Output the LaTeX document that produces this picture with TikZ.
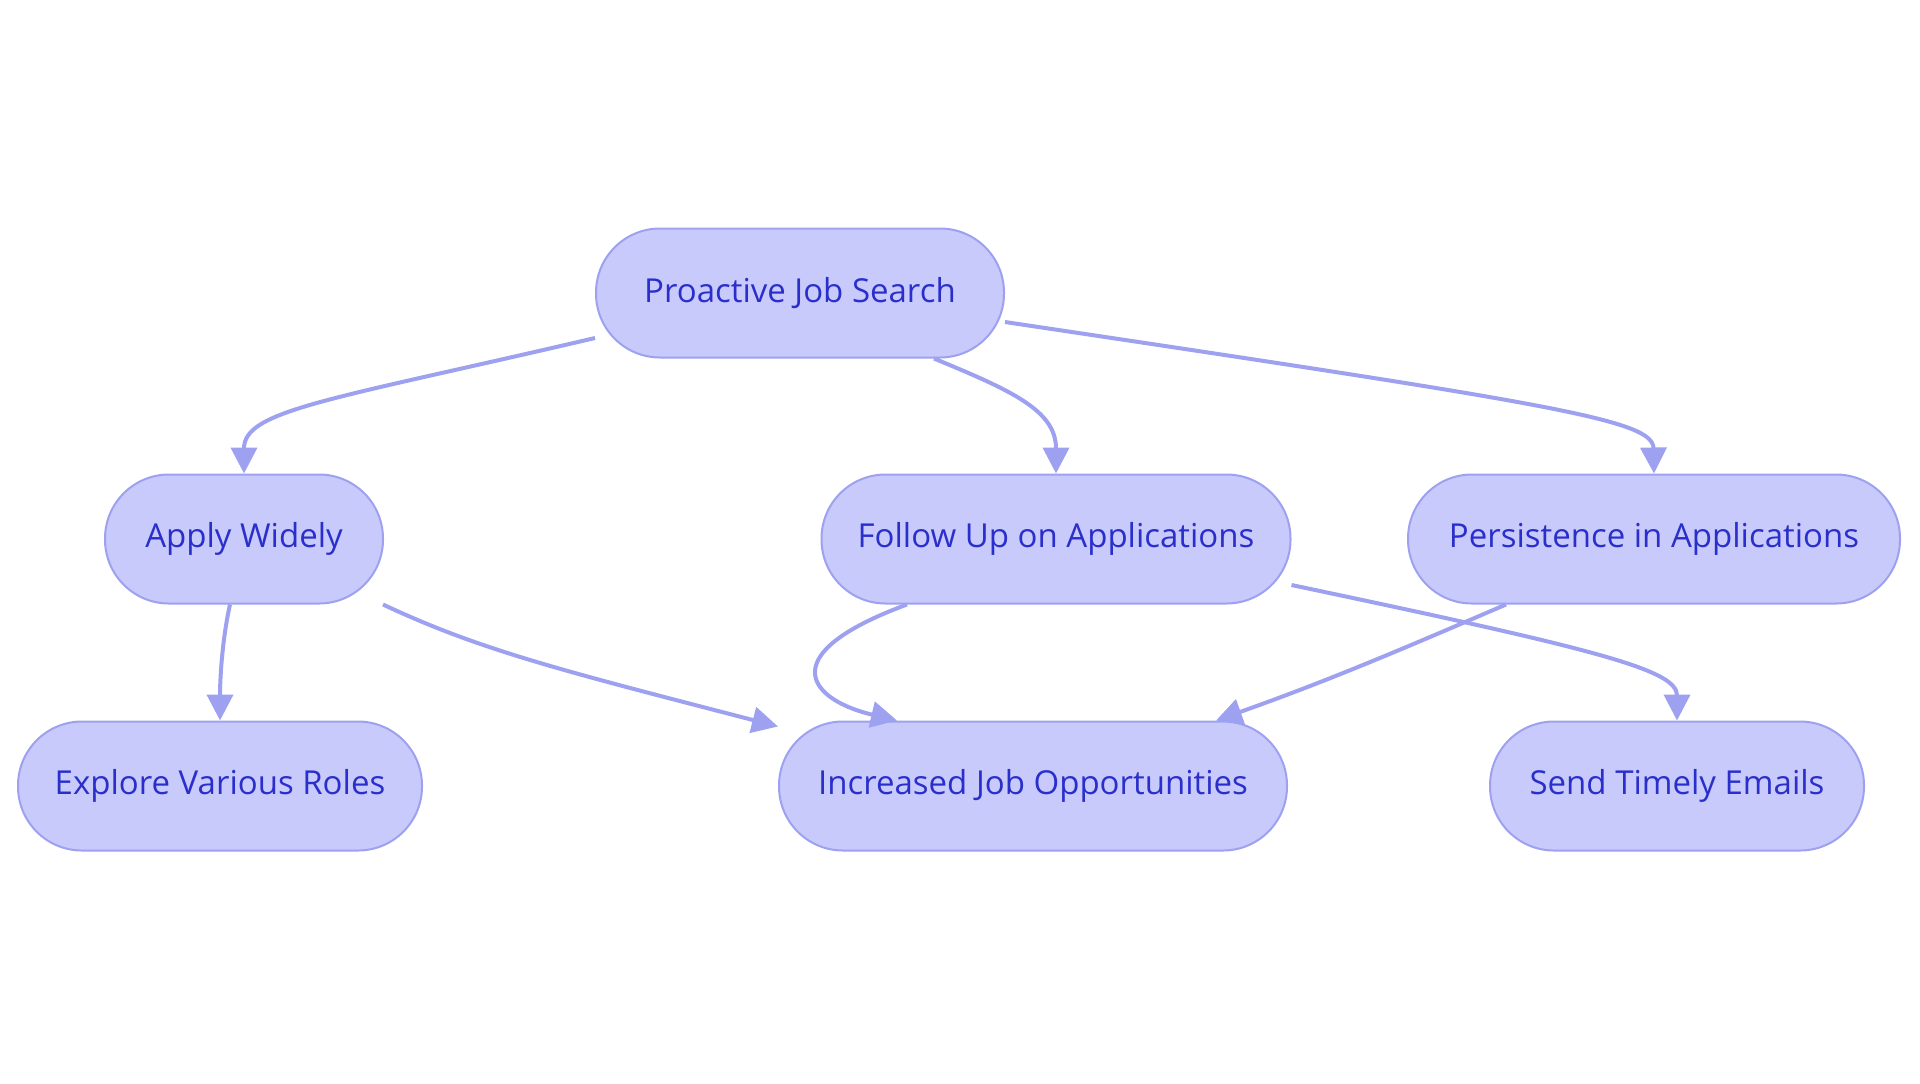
\documentclass[tikz,border=0pt]{standalone}
\usepackage{fontspec}
\setmainfont{Open Sans}
\usetikzlibrary{arrows.meta}
\definecolor{boxfill}{HTML}{C8CAFB}
\definecolor{boxline}{HTML}{9DA1F0}
\definecolor{boxtext}{HTML}{2A2FCB}
\tikzset{
  stepnode/.style={draw=boxline,line width=1pt,fill=boxfill,text=boxtext,
    rounded corners=32pt,minimum height=64.5pt,inner sep=0pt,
    font=\fontsize{16.5}{19}\selectfont},
  link/.style={draw=boxline,line width=2pt,-{Triangle[width=13pt,length=13pt]}}
}
\begin{document}
\begin{tikzpicture}[x=0.5pt,y=-0.5pt]
 \useasboundingbox (0,0) rectangle (1920,1083);
 \node[stepnode,minimum width=204pt] (pjs) at (800,293) {Proactive Job Search};
 \node[stepnode,minimum width=139pt] (aw) at (244,539) {Apply Widely};
 \node[stepnode,minimum width=234.5pt] (fu) at (1056,539) {Follow Up on Applications};
 \node[stepnode,minimum width=246pt] (pa) at (1654,539) {Persistence in Applications};
 \node[stepnode,minimum width=202pt] (evr) at (220,786) {Explore Various Roles};
 \node[stepnode,minimum width=254pt] (ijo) at (1033,786) {Increased Job Opportunities};
 \node[stepnode,minimum width=187pt] (ste) at (1677,786) {Send Timely Emails};

 \draw[link] ([yshift=-22.5pt]pjs.west) .. controls (330,400) and (244,410) .. (aw.north);
 \draw[link] ([xshift=67pt]pjs.south) .. controls (1010,390) and (1056,410) .. (fu.north);
 \draw[link] ([yshift=-14.5pt]pjs.east) .. controls (1560,405) and (1653,420) .. (pa.north);
 \draw[link] ([xshift=-7pt]aw.south) .. controls (222,640) and (220,680) .. (evr.north);
 \draw[link] ([xshift=69.5pt]aw.south) .. controls (480,650) and (560,670) .. ([yshift=-3pt]ijo.north west);
 \draw[link] ([xshift=-74.5pt]fu.south) .. controls (770,655) and (810,700) .. ([xshift=-68pt]ijo.north);
 \draw[link] ([yshift=-23pt]fu.east) .. controls (1600,650) and (1677,670) .. (ste.north);
 \draw[link] ([xshift=-74pt]pa.south) .. controls (1400,650) and (1330,680) .. ([xshift=91.5pt]ijo.north);
\end{tikzpicture}
\end{document}
